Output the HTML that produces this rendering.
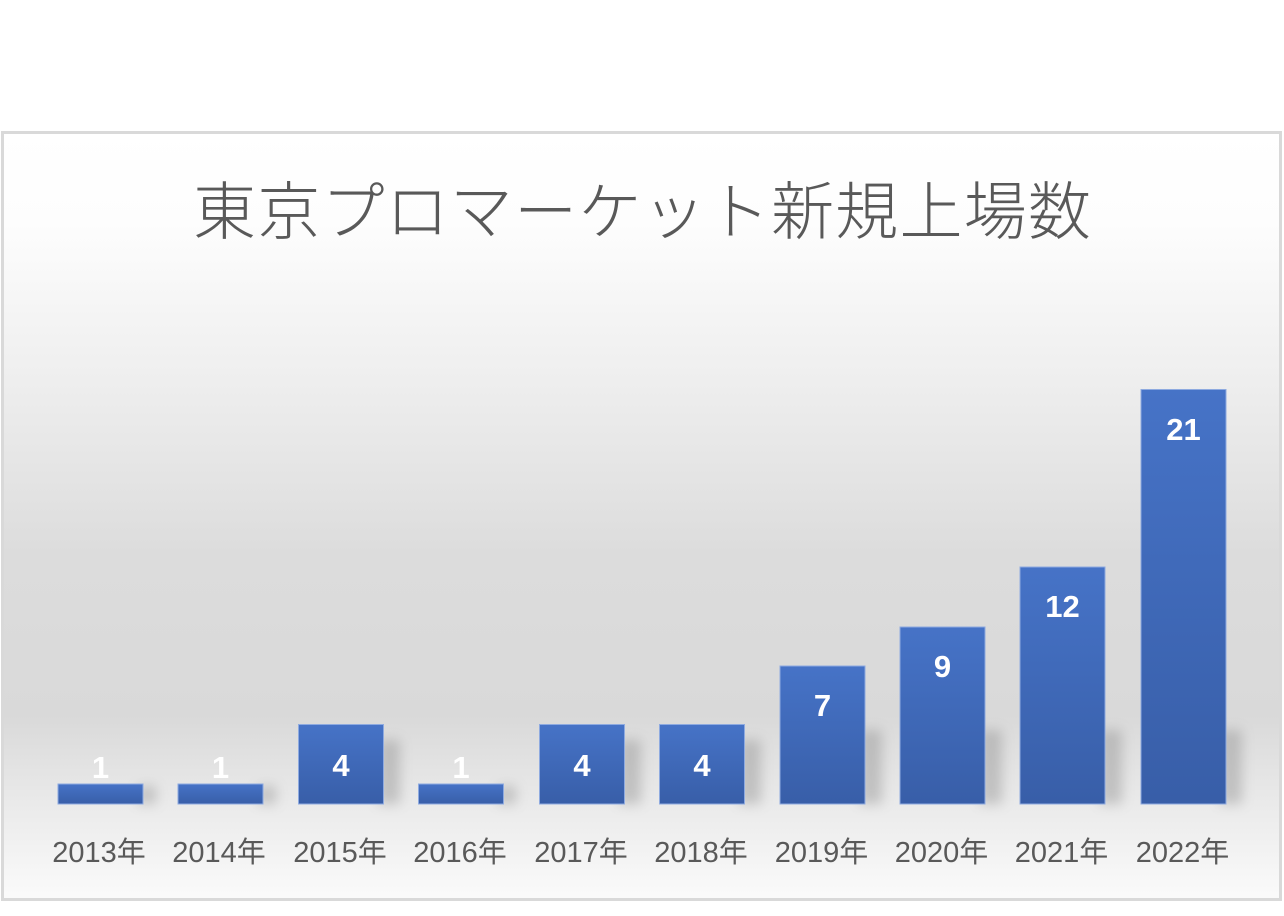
<!DOCTYPE html>
<html>
<head>
<meta charset="utf-8">
<style>
html,body{margin:0;padding:0;background:#fff;}
body{width:1284px;height:916px;position:relative;overflow:hidden;}
svg{position:absolute;left:0;top:0;}
</style>
</head>
<body>
<svg width="1284" height="916" viewBox="0 0 1284 916" xmlns="http://www.w3.org/2000/svg">
  <defs>
    <linearGradient id="bg" x1="0" y1="131" x2="0" y2="901" gradientUnits="userSpaceOnUse">
      <stop offset="0" stop-color="#ffffff"/>
      <stop offset="0.12" stop-color="#fdfdfd"/>
      <stop offset="0.3" stop-color="#f0f0f0"/>
      <stop offset="0.55" stop-color="#dcdcdc"/>
      <stop offset="0.76" stop-color="#d9d9d9"/>
      <stop offset="0.88" stop-color="#ebebeb"/>
      <stop offset="1" stop-color="#fbfbfb"/>
    </linearGradient>
    <linearGradient id="bar" x1="0" y1="0" x2="0" y2="1">
      <stop offset="0" stop-color="#4673c7"/>
      <stop offset="1" stop-color="#385ea8"/>
    </linearGradient>
    <filter id="blur" x="-50%" y="-50%" width="200%" height="200%">
      <feGaussianBlur stdDeviation="6"/>
    </filter>
  </defs>

  <rect x="2.5" y="132.5" width="1278" height="767" fill="url(#bg)" stroke="#d9d9d9" stroke-width="3"/>

  <text x="193" y="234" textLength="898" lengthAdjust="spacing" font-family="'Noto Sans CJK JP', 'Noto Sans CJK SC', sans-serif" font-weight="300" font-size="63" fill="#595959">東京プロマーケット新規上場数</text>

  <!-- shadows -->
  <g fill="#7a7a7a" opacity="0.35" filter="url(#blur)">
    <rect x="138" y="786" width="18" height="18"/>
    <rect x="258" y="786" width="18" height="18"/>
    <rect x="378" y="740" width="22" height="64"/>
    <rect x="498" y="786" width="18" height="18"/>
    <rect x="619" y="740" width="22" height="64"/>
    <rect x="739" y="740" width="22" height="64"/>
    <rect x="860" y="730" width="22" height="74"/>
    <rect x="980" y="730" width="22" height="74"/>
    <rect x="1100" y="730" width="22" height="74"/>
    <rect x="1220" y="730" width="22" height="74"/>
  </g>

  <!-- bars -->
  <g fill="url(#bar)" stroke="#8eaae0" stroke-width="1">
    <rect x="58" y="784" width="85" height="20"/>
    <rect x="178" y="784" width="85" height="20"/>
    <rect x="298.5" y="724.5" width="85" height="79.5"/>
    <rect x="418.5" y="784" width="85" height="20"/>
    <rect x="539.5" y="724.5" width="85" height="79.5"/>
    <rect x="659.5" y="724.5" width="85" height="79.5"/>
    <rect x="780" y="666" width="85" height="138"/>
    <rect x="900" y="627" width="85" height="177"/>
    <rect x="1020" y="567" width="85" height="237"/>
    <rect x="1141" y="389.5" width="85" height="414.5"/>
  </g>

  <!-- value labels -->
  <g font-family="'Liberation Sans', sans-serif" font-weight="bold" font-size="31" fill="#ffffff" text-anchor="middle">
    <text x="100.5" y="778">1</text>
    <text x="220.5" y="778">1</text>
    <text x="341" y="776">4</text>
    <text x="461" y="778">1</text>
    <text x="582" y="776">4</text>
    <text x="702" y="776">4</text>
    <text x="822.5" y="716">7</text>
    <text x="942.5" y="677">9</text>
    <text x="1062.5" y="617">12</text>
    <text x="1183.5" y="440">21</text>
  </g>

  <!-- category labels -->
  <g font-family="'Liberation Sans', 'Noto Sans CJK JP', sans-serif" font-size="29" fill="#595959" text-anchor="middle">
    <text x="99" y="862">2013年</text>
    <text x="219" y="862">2014年</text>
    <text x="340" y="862">2015年</text>
    <text x="460" y="862">2016年</text>
    <text x="581" y="862">2017年</text>
    <text x="701" y="862">2018年</text>
    <text x="821.5" y="862">2019年</text>
    <text x="941.5" y="862">2020年</text>
    <text x="1061.5" y="862">2021年</text>
    <text x="1182.5" y="862">2022年</text>
  </g>
</svg>
</body>
</html>
